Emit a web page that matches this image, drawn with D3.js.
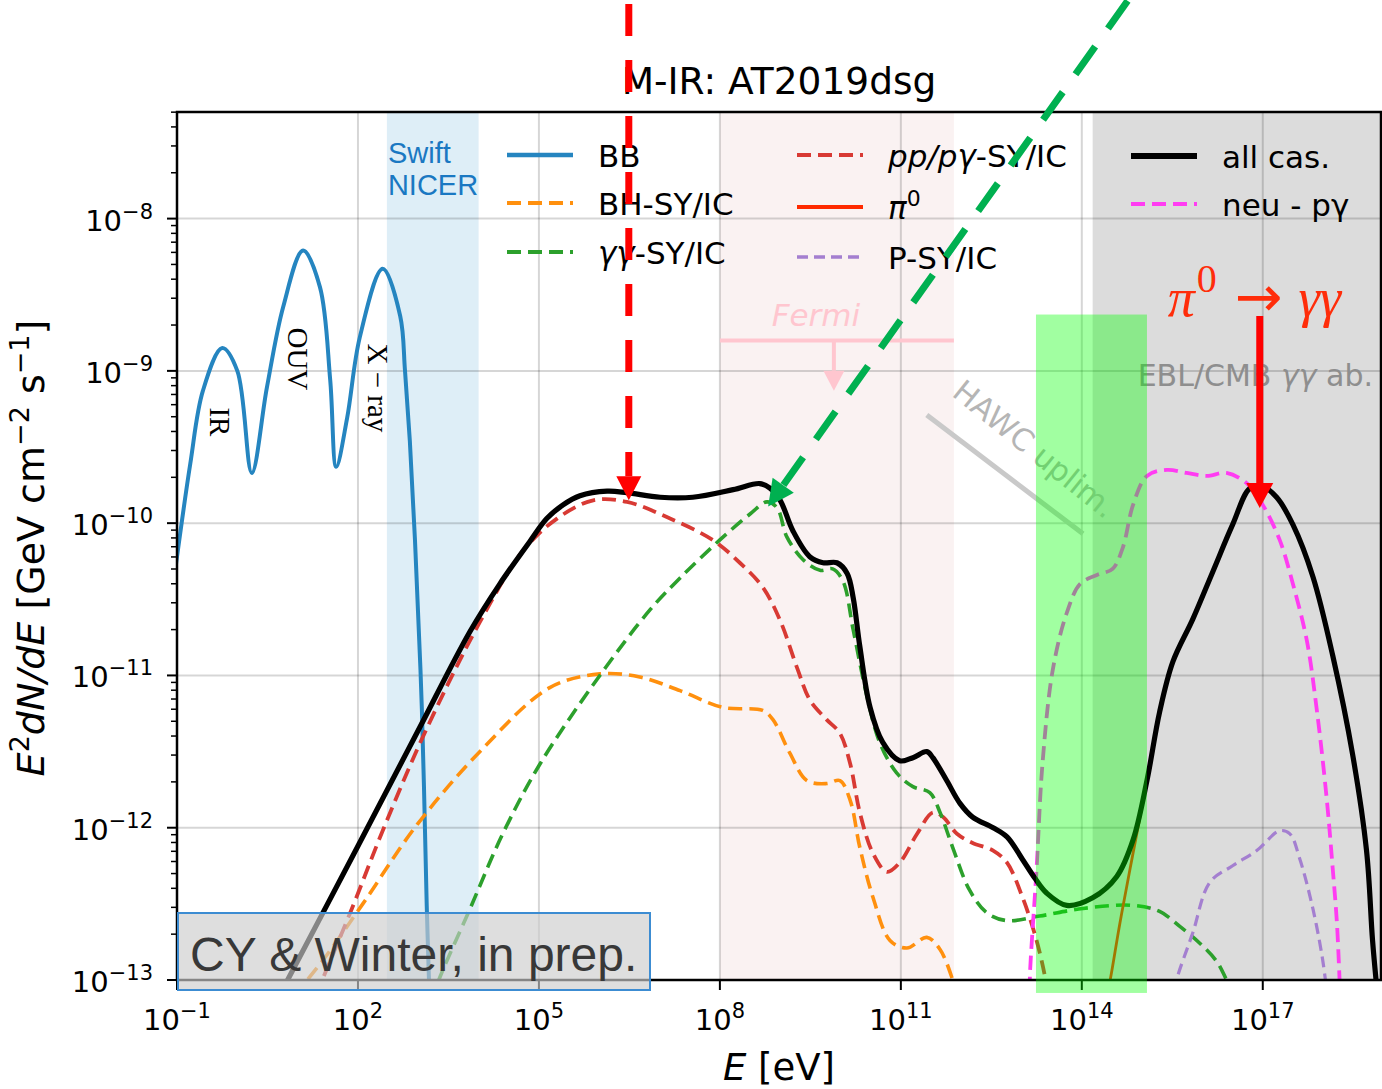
<!DOCTYPE html>
<html>
<head>
<meta charset="utf-8">
<script src="https://cdn.jsdelivr.net/npm/d3@7"></script>
<style>
  body { margin: 0; background: #fff; }
  svg text { font-family: "DejaVu Sans", sans-serif; }
</style>
</head>
<body>
<svg id="chart" width="1382" height="1089"></svg>
<script>
// all curves: [log10(E / eV), log10(E^2 dN/dE / GeV cm^-2 s^-1)]
const bb = [[-1.05,-10.37],[-1.00,-10.22],[-0.78,-9.61],[-0.57,-9.13],[-0.25,-8.85],[0.00,-9.00],[0.24,-9.67],
  [0.49,-9.11],[0.76,-8.58],[1.09,-8.21],[1.37,-8.45],[1.54,-9.06],[1.64,-9.63],[1.82,-9.31],[2.03,-8.78],
  [2.41,-8.33],[2.70,-8.64],[2.78,-9.00],[2.86,-9.46],[2.945,-10.11],[3.06,-11.23],[3.14,-12.51],[3.185,-13.1]];
const allCas = [[0.50,-13.25],[0.82,-13.01],[2.00,-12.12],[3.00,-11.36],[3.86,-10.71],[4.35,-10.40],[4.85,-10.12],
  [5.13,-9.97],[5.40,-9.88],[5.68,-9.82],[6.13,-9.79],[6.46,-9.80],[7.01,-9.83],[7.55,-9.83],[8.22,-9.78],[8.66,-9.74],
  [8.83,-9.77],[9.00,-9.85],[9.21,-10.05],[9.49,-10.22],[9.71,-10.26],[9.94,-10.26],[10.11,-10.33],[10.21,-10.49],
  [10.32,-10.81],[10.49,-11.21],[10.70,-11.44],[10.98,-11.56],[11.20,-11.54],[11.43,-11.50],[11.53,-11.54],
  [11.76,-11.69],[11.98,-11.84],[12.19,-11.93],[12.53,-12.00],[12.76,-12.06],[13.02,-12.21],[13.22,-12.33],
  [13.42,-12.43],[13.75,-12.51],[14.18,-12.46],[14.58,-12.32],[14.85,-12.08],[15.08,-11.69],[15.29,-11.24],
  [15.51,-10.91],[15.84,-10.63],[16.17,-10.32],[16.50,-10.01],[16.79,-9.77],[17.00,-9.76],[17.23,-9.83],
  [17.50,-10.01],[17.83,-10.35],[18.16,-10.87],[18.49,-11.52],[18.72,-12.15],[18.82,-12.74],[18.89,-13.05]];
const ppSyIc = [[1.30,-13.10],[1.87,-12.56],[2.41,-12.02],[3.08,-11.40],[4.02,-10.65],[4.74,-10.18],
  [5.30,-9.97],[5.90,-9.85],[6.46,-9.86],[7.12,-9.96],[7.88,-10.11],[8.33,-10.26],[8.71,-10.42],[9.00,-10.64],
  [9.28,-10.95],[9.49,-11.16],[9.77,-11.29],[9.99,-11.38],[10.16,-11.58],[10.32,-11.90],[10.54,-12.17],
  [10.77,-12.29],[10.98,-12.23],[11.27,-12.04],[11.53,-11.90],[11.70,-11.93],[11.93,-12.04],[12.19,-12.10],
  [12.53,-12.15],[12.76,-12.23],[13.02,-12.46],[13.25,-12.74],[13.39,-12.98],[13.42,-13.07]];
const bhSyIc = [[0.95,-13.10],[1.42,-12.87],[2.08,-12.50],[2.98,-11.98],[4.07,-11.48],[5.18,-11.08],[6.01,-10.99],
  [6.67,-11.01],[7.34,-11.10],[8.05,-11.21],[8.71,-11.23],[8.88,-11.29],[9.16,-11.51],[9.44,-11.69],[9.77,-11.71],
  [9.99,-11.69],[10.16,-11.82],[10.32,-12.13],[10.54,-12.46],[10.82,-12.74],[11.10,-12.79],[11.43,-12.72],
  [11.65,-12.80],[11.86,-13.00],[11.91,-13.07]];
const ggSyIc = [[3.20,-13.15],[3.36,-12.98],[3.86,-12.53],[4.40,-12.04],[5.02,-11.58],[6.01,-11.00],[6.84,-10.57],
  [7.34,-10.36],[8.00,-10.11],[8.50,-9.94],[8.78,-9.86],[8.95,-9.90],[9.11,-10.09],[9.38,-10.24],[9.66,-10.31],
  [9.87,-10.30],[10.04,-10.38],[10.21,-10.70],[10.44,-11.14],[10.65,-11.44],[10.93,-11.64],[11.20,-11.73],
  [11.48,-11.77],[11.65,-11.90],[11.86,-12.13],[12.14,-12.41],[12.43,-12.56],[12.76,-12.61],[13.30,-12.58],
  [14.02,-12.53],[14.85,-12.51],[15.29,-12.55],[15.63,-12.65],[15.96,-12.76],[16.24,-12.88],[16.40,-13.00],[16.49,-13.07]];
const pi0 = [[14.43,-13.07],[14.47,-13.00],[14.63,-12.63],[14.80,-12.27],[14.96,-11.94],[15.08,-11.69],[15.29,-11.24],
  [15.51,-10.91],[15.84,-10.63],[16.17,-10.32],[16.50,-10.01],[16.79,-9.77],[17.00,-9.76],[17.23,-9.83],
  [17.50,-10.01],[17.83,-10.35],[18.16,-10.87],[18.49,-11.52],[18.72,-12.15],[18.82,-12.74],[18.89,-13.05]];
const pSyIc = [[15.54,-13.07],[15.57,-13.00],[15.84,-12.69],[16.12,-12.36],[16.50,-12.25],[16.90,-12.15],
  [17.28,-12.02],[17.45,-12.04],[17.61,-12.20],[17.83,-12.53],[17.99,-12.86],[18.06,-13.07]];
const neuPg = [[13.14,-13.07],[13.14,-12.97],[13.25,-12.27],[13.35,-11.57],[13.52,-10.96],[13.75,-10.59],
  [13.97,-10.40],[14.25,-10.34],[14.51,-10.30],[14.68,-10.16],[14.85,-9.88],[15.08,-9.69],[15.41,-9.65],
  [15.74,-9.67],[16.07,-9.69],[16.40,-9.67],[16.74,-9.74],[17.00,-9.88],[17.28,-10.11],[17.50,-10.40],
  [17.73,-10.77],[17.90,-11.24],[18.06,-11.81],[18.16,-12.27],[18.23,-12.63],[18.28,-13.07]];

// bands [log10 Emin, log10 Emax]
const xrayBand = [2.48, 4.0];
const fermiBand = [8.0, 11.88];
const eblBand = [14.18, 18.96];
const greenBox = [[13.24, -8.63], [15.08, -13.085]];
// limits and arrows
const fermiUplim = [[8.0, -8.80], [11.88, -8.80]];
const fermiArrow = [[9.89, -8.80], [9.89, -9.13]];
const hawcUplim = [[11.43, -9.29], [14.02, -10.07]];
const redArrow = [[6.49, -6.59], [6.49, -9.85]];
const greenArrow = [[14.76, -6.57], [8.80, -9.89]];
const piArrow = [[16.95, -8.64], [16.95, -9.90]];
// rotated BB component labels [text, log10 E, log10 flux]
const bbLabels = [["IR", -0.45, -9.24], ["OUV", 0.84, -8.715], ["X − ray", 2.17, -8.82]];

const xTicks = [-1, 2, 5, 8, 11, 14, 17];
const yTicks = [-13, -12, -11, -10, -9, -8];

const X0 = 177, X1 = 1381, Y0 = 112, Y1 = 980;
const x = d3.scaleLog().domain([1e-1, 10 ** 18.96]).range([X0, X1]);
const y = d3.scaleLog().domain([1e-13, 10 ** -7.3]).range([Y1, Y0]);
const px = d => x(10 ** d[0]), py = d => y(10 ** d[1]);

const svg = d3.select("#chart");
svg.append("defs").append("clipPath").attr("id", "plot")
  .append("rect").attr("x", X0).attr("y", Y0).attr("width", X1 - X0).attr("height", Y1 - Y0);

const series = [
  { data: bb, color: "#2585c0", w: 4 },
  { data: bhSyIc, color: "#ff900e", w: 3.6, dash: "14,7" },
  { data: ppSyIc, color: "#d83a34", w: 3.8, dash: "14,7" },
  { data: ggSyIc, color: "#2ca02c", w: 3.6, dash: "14,7" },
  { data: pSyIc, color: "#a47fd0", w: 3.2, dash: "11,6" },
  { data: neuPg, color: "#ff3cf2", w: 3.8, dash: "14,7" },
  { data: pi0, color: "#ff2a00", w: 2.8 },
  { data: allCas, color: "#000", w: 5.2 }
];

// bands
const bands = svg.append("g");
function band(r, fill) {
  bands.append("rect").attr("x", x(10 ** r[0])).attr("y", Y0)
    .attr("width", Math.min(X1, x(10 ** r[1])) - x(10 ** r[0])).attr("height", Y1 - Y0).attr("fill", fill);
}
band(xrayBand, "rgba(31,140,200,0.15)");
band(fermiBand, "rgba(215,150,150,0.12)");
band(eblBand, "#dcdcdc");

// grid
const grid = svg.append("g").attr("stroke", "rgba(0,0,0,0.16)").attr("stroke-width", 2);
xTicks.slice(1).forEach(t => grid.append("line").attr("x1", x(10 ** t)).attr("x2", x(10 ** t)).attr("y1", Y0).attr("y2", Y1));
yTicks.slice(1).forEach(t => grid.append("line").attr("x1", X0).attr("x2", X1).attr("y1", y(10 ** t)).attr("y2", y(10 ** t)));

// band texts
["Swift", "NICER"].forEach((t, i) => {
  svg.append("text").attr("x", x(10 ** xrayBand[0]) + 1).attr("y", 163 + 32 * i).attr("fill", "#1a78c2")
    .style("font-family", "'Liberation Sans', Arial, sans-serif").attr("font-size", 29).text(t);
});
bbLabels.forEach(([t, e, f]) => {
  svg.append("text").attr("transform", `translate(${x(10 ** e)},${y(10 ** f)}) rotate(90)`)
    .style("font-family", "'Liberation Serif', 'Times New Roman', serif").attr("font-size", 29).attr("fill", "#000").text(t);
});

// curves
const line = d3.line().x(px).y(py).curve(d3.curveCatmullRom.alpha(0.5));
const curves = svg.append("g").attr("clip-path", "url(#plot)");
series.forEach(s => {
  curves.append("path").attr("d", line(s.data)).attr("fill", "none").attr("stroke", s.color)
    .attr("stroke-width", s.w).attr("stroke-dasharray", s.dash || null).attr("stroke-linejoin", "round");
});

function arrow(g, from, to, o) {
  const x1 = px(from), y1 = py(from), x2 = px(to), y2 = py(to);
  const L = Math.hypot(x2 - x1, y2 - y1), ux = (x2 - x1) / L, uy = (y2 - y1) / L;
  const bx = x2 - ux * o.head, by = y2 - uy * o.head, nx = -uy * o.hw / 2, ny = ux * o.hw / 2;
  g.append("line").attr("x1", x1).attr("y1", y1).attr("x2", bx).attr("y2", by)
    .attr("stroke", o.color).attr("stroke-width", o.w).attr("stroke-dasharray", o.dash || null);
  g.append("path").attr("d", `M${x2},${y2}L${bx + nx},${by + ny}L${bx - nx},${by - ny}Z`).attr("fill", o.color);
}

// Fermi + HAWC upper limits
const lims = svg.append("g");
lims.append("line").attr("x1", px(fermiUplim[0])).attr("x2", px(fermiUplim[1]))
  .attr("y1", py(fermiUplim[0])).attr("y2", py(fermiUplim[1])).attr("stroke", "#ffc6cf").attr("stroke-width", 4);
arrow(lims, fermiArrow[0], fermiArrow[1], { color: "#ffc6cf", w: 4, head: 20, hw: 21 });
lims.append("text").attr("x", px(fermiArrow[0]) - 18).attr("y", 326).attr("text-anchor", "middle")
  .attr("font-size", 31).attr("font-style", "italic").attr("fill", "#ffc6cf").text("Fermi");
lims.append("line").attr("x1", px(hawcUplim[0])).attr("y1", py(hawcUplim[0]))
  .attr("x2", px(hawcUplim[1])).attr("y2", py(hawcUplim[1])).attr("stroke", "#c9c9c9").attr("stroke-width", 5);
lims.append("text").attr("transform", `translate(${px(hawcUplim[0]) + 24},${py(hawcUplim[0]) - 20}) rotate(39)`)
  .attr("font-size", 30.5).attr("fill", "#b5b5b5").text("HAWC uplim.");

const ebl = svg.append("text").attr("x", x(10 ** eblBand[0]) + 45).attr("y", 386).attr("font-size", 30).attr("fill", "#8e8e8e");
ebl.append("tspan").text("EBL/CMB ");
ebl.append("tspan").attr("font-style", "italic").text("γγ");
ebl.append("tspan").text(" ab.");

// axes
const ax = svg.append("g");
ax.append("rect").attr("x", X0).attr("y", Y0).attr("width", X1 - X0).attr("height", Y1 - Y0)
  .attr("fill", "none").attr("stroke", "#000").attr("stroke-width", 2.5);
function powLabel(t, e) {
  t.append("tspan").text("10");
  t.append("tspan").attr("dy", -12).attr("font-size", 21).text(e < 0 ? "−" + (-e) : e);
}
xTicks.forEach(t => {
  const xx = x(10 ** t);
  ax.append("line").attr("x1", xx).attr("x2", xx).attr("y1", Y1).attr("y2", Y1 + 10).attr("stroke", "#000").attr("stroke-width", 2);
  powLabel(ax.append("text").attr("x", xx).attr("y", 1030).attr("text-anchor", "middle").attr("font-size", 29), t);
});
yTicks.forEach(t => {
  const yy = y(10 ** t);
  ax.append("line").attr("x1", X0 - 10).attr("x2", X0).attr("y1", yy).attr("y2", yy).attr("stroke", "#000").attr("stroke-width", 2);
  powLabel(ax.append("text").attr("x", 153).attr("y", yy + 12).attr("text-anchor", "end").attr("font-size", 29), t);
  for (let k = 2; k <= 9; k++) {
    const v = k * 10 ** t;
    if (v > y.domain()[1]) break;
    ax.append("line").attr("x1", X0 - 6).attr("x2", X0).attr("y1", y(v)).attr("y2", y(v)).attr("stroke", "#000").attr("stroke-width", 1.5);
  }
});

const xl = ax.append("text").attr("x", (X0 + X1) / 2).attr("y", 1080).attr("text-anchor", "middle").attr("font-size", 37);
xl.append("tspan").attr("font-style", "italic").text("E");
xl.append("tspan").text(" [eV]");

const yl = ax.append("text").attr("transform", "translate(44,548) rotate(-90)").attr("text-anchor", "middle").attr("font-size", 38);
yl.append("tspan").attr("font-style", "italic").text("E");
yl.append("tspan").attr("dy", -15).attr("font-size", 27).text("2");
yl.append("tspan").attr("dy", 15).attr("font-style", "italic").text("dN/dE");
yl.append("tspan").text(" [GeV cm");
yl.append("tspan").attr("dy", -15).attr("font-size", 27).text("−2");
yl.append("tspan").attr("dy", 15).text(" s");
yl.append("tspan").attr("dy", -15).attr("font-size", 27).text("−1");
yl.append("tspan").attr("dy", 15).text("]");

svg.append("text").attr("x", (X0 + X1) / 2).attr("y", 94).attr("text-anchor", "middle").attr("font-size", 37.5).text("M-IR: AT2019dsg");

// green band (drawn over curves, not clipped)
svg.append("rect").attr("x", px(greenBox[0])).attr("y", py(greenBox[0]))
  .attr("width", px(greenBox[1]) - px(greenBox[0])).attr("height", py(greenBox[1]) - py(greenBox[0]))
  .attr("fill", "rgba(0,255,0,0.37)");

// legend
const legend = [
  { s: series[0], lab: [["BB"]], col: 0, ly: 155 },
  { s: series[1], lab: [["BH-SY/IC"]], col: 0, ly: 203 },
  { s: series[3], lab: [["γγ", "italic"], ["-SY/IC"]], col: 0, ly: 252 },
  { s: series[2], lab: [["pp/pγ", "italic"], ["-SY/IC"]], col: 1, ly: 155 },
  { s: { color: "#ff2a00", w: 3.8 }, lab: [["π", "italic"], ["0", "sup"]], col: 1, ly: 207 },
  { s: series[4], lab: [["P-SY/IC"]], col: 1, ly: 257 },
  { s: { color: "#000", w: 5.6 }, lab: [["all cas."]], col: 2, ly: 156 },
  { s: series[5], lab: [["neu - pγ"]], col: 2, ly: 204 }
];
const colX = [507, 797, 1131];
const lg = svg.append("g");
legend.forEach(d => {
  const x0 = colX[d.col];
  lg.append("line").attr("x1", x0).attr("x2", x0 + 66).attr("y1", d.ly).attr("y2", d.ly)
    .attr("stroke", d.s.color).attr("stroke-width", d.s.w + 0.4).attr("stroke-dasharray", d.s.dash || null);
  const t = lg.append("text").attr("x", x0 + 91).attr("y", d.ly + 12).attr("font-size", 31);
  d.lab.forEach(([txt, st]) => {
    const ts = t.append("tspan").text(txt);
    if (st === "italic") ts.attr("font-style", "italic");
    if (st === "sup") ts.attr("dy", -13).attr("font-size", 22);
  });
});

// annotation arrows
const ar = svg.append("g");
arrow(ar, redArrow[0], redArrow[1], { color: "#ff0000", w: 7, dash: "32,24", head: 24, hw: 25 });
arrow(ar, greenArrow[0], greenArrow[1], { color: "#00b050", w: 7, dash: "34,22", head: 26, hw: 26 });
arrow(ar, piArrow[0], piArrow[1], { color: "#ff0000", w: 7, head: 25, hw: 27 });
const pt = svg.append("text").attr("x", px(piArrow[0]) - 92).attr("y", 316)
  .style("font-family", "'Liberation Serif', 'Times New Roman', serif").attr("font-size", 54).attr("fill", "#ff2d0a");
pt.append("tspan").attr("font-style", "italic").text("π");
pt.append("tspan").attr("dy", -24).attr("dx", 2).attr("font-size", 40).text("0");
pt.append("tspan").attr("dy", 24).attr("dx", 18).style("font-family", "'DejaVu Sans', sans-serif").attr("font-size", 57).text("→");
pt.append("tspan").attr("dx", 16).attr("font-style", "italic").text("γγ");

// credit box
svg.append("rect").attr("x", 178).attr("y", 913).attr("width", 472).attr("height", 77)
  .attr("fill", "rgba(205,205,205,0.65)").attr("stroke", "#3c8cd2").attr("stroke-width", 2);
svg.append("text").attr("x", 190).attr("y", 971).style("font-family", "'Liberation Sans', Arial, sans-serif")
  .attr("font-size", 48).attr("fill", "#383838").text("CY & Winter, in prep.");
</script>
</body>
</html>
